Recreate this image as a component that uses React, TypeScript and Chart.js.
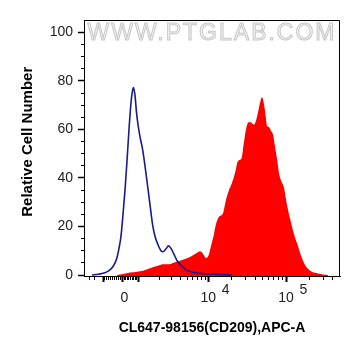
import React, { useEffect, useRef } from "react";
import { Chart, registerables } from "chart.js";

Chart.register(...registerables);

// ---- data (x in display channels 0..1024 of the biexponential axis) ----
const blueX = [32, 56, 80, 100, 116, 130, 140, 148, 156, 164, 172, 180, 188, 194, 198, 204, 210, 216, 224, 234, 244, 254, 264, 274, 284, 296, 308, 316, 328, 338, 348, 360, 372, 388, 408, 432, 464, 504, 544, 592];
const blueY = [0, 0.3, 0.8, 1.8, 3.5, 6.5, 11, 16, 25, 35, 47, 60, 71, 76, 77.3, 74, 67, 62, 57, 52, 45, 37, 29, 21, 16, 12.5, 10, 9.6, 10.8, 12, 11, 8.5, 6, 4, 2.2, 1.2, 0.7, 0.4, 0.2, 0];

const redX = [132, 156, 184, 212, 236, 264, 292, 316, 336, 356, 384, 412, 436, 452, 464, 476, 488, 498, 508, 518, 528, 540, 556, 568, 580, 592, 604, 616, 630, 640, 650, 658, 668, 678, 686, 696, 704, 712, 720, 726, 732, 740, 748, 756, 764, 772, 782, 792, 800, 810, 820, 832, 844, 856, 868, 880, 892, 908, 928, 956, 976];
const redY = [0, 0.4, 1, 1.4, 1.8, 2.8, 3.7, 4.4, 4.4, 5, 5.9, 6.9, 8.2, 9.2, 9.8, 8.8, 7, 8, 12, 16, 21, 24, 25.5, 31, 35, 38, 42, 47, 48, 55, 61, 63, 63, 62, 63, 67, 71, 73.3, 70.5, 66, 61.5, 61, 59.5, 58, 53, 48, 41, 38, 36, 30, 25, 20, 15.5, 12, 8, 5, 3, 1.6, 0.8, 0.2, 0];

const yMajorTicks = [0, 20, 40, 60, 80, 100];
const yMinorTicks = [0, 5, 10, 15, 20, 25, 30, 35, 40, 45, 50, 55, 60, 65, 70, 75, 80, 85, 90, 95, 100];

const xMajorValues = [-1000, 0, 1000, 10000, 100000];
const xMinorValues = [-3000, -2000, -900, -800, -700, -600, -500, -400, -300, -200, -100, 100, 200, 300, 400, 500, 600, 700, 800, 900, 2000, 3000, 4000, 5000, 6000, 7000, 8000, 9000, 20000, 30000, 40000, 50000, 60000, 70000, 80000, 90000, 200000, 300000, 400000];
const xLabelValues = [0, 10000, 100000];
const xLabelBase = ["0", "10", "10"];
const xLabelExp = ["", "4", "5"];

const xTitle = "CL647-98156(CD209),APC-A";
const yTitle = "Relative Cell Number";
const watermark = "WWW.PTGLAB.COM";

const FONT = "'Liberation Sans', Arial, Helvetica, sans-serif";

// biexponential-like display transform: value -> channel (0..1024)
function toChannel(v: number): number {
  const zero = 154, negK = 76, posK = 218, dec1 = 279, dec2 = 311, negDec = 110;
  if (v >= 0) {
    if (v <= 1000) return zero + ((posK - zero) * v) / 1000;
    if (v <= 10000) return posK + dec1 * Math.log10(v / 1000);
    return posK + dec1 + dec2 * Math.log10(v / 10000);
  }
  const a = -v;
  if (a <= 1000) return zero - ((zero - negK) * a) / 1000;
  return negK - negDec * Math.log10(a / 1000);
}

function xLabel(value: number): string | string[] {
  const i = xLabelValues.findIndex((v) => Math.abs(toChannel(v) - value) < 0.01);
  if (i < 0) return "";
  if (!xLabelExp[i]) return ["", " " + xLabelBase[i]];
  return ["         " + xLabelExp[i], xLabelBase[i]];
}

const framePlugin = {
  id: "frame",
  afterDatasetsDraw(chart: any) {
    const { ctx, chartArea } = chart;
    ctx.save();
    ctx.strokeStyle = "#000";
    ctx.lineWidth = 1;
    ctx.beginPath();
    ctx.moveTo(chartArea.left, chartArea.top + 0.5);
    ctx.lineTo(chartArea.right - 0.5, chartArea.top + 0.5);
    ctx.lineTo(chartArea.right - 0.5, chartArea.bottom);
    ctx.stroke();
    ctx.restore();
  },
};

const watermarkPlugin = {
  id: "watermark",
  beforeDatasetsDraw(chart: any) {
    const { ctx, chartArea } = chart;
    ctx.save();
    ctx.font = `23px ${FONT}`;
    (ctx as any).letterSpacing = "2px";
    ctx.textAlign = "center";
    ctx.textBaseline = "middle";
    const cx = (chartArea.left + chartArea.right) / 2;
    const cy = chartArea.top + 13.5;
    ctx.fillStyle = "#f5f5f5";
    ctx.fillText(watermark, cx, cy);
    ctx.strokeStyle = "#c8c8c8";
    ctx.lineWidth = 1;
    ctx.strokeText(watermark, cx, cy);
    ctx.restore();
  },
};

export default function App() {
  const ref = useRef<HTMLCanvasElement | null>(null);

  useEffect(() => {
    if (!ref.current) return;
    const chart = new Chart(ref.current, {
      type: "line",
      data: {
        datasets: [
          {
            label: "CD209",
            data: blueX.map((x, i) => ({ x, y: blueY[i] })),
            borderColor: "#1a1a8c",
            borderWidth: 1.6,
            fill: false,
            pointRadius: 0,
            cubicInterpolationMode: "monotone",
            order: 1,
          },
          {
            label: "Sample",
            data: redX.map((x, i) => ({ x, y: redY[i] })),
            borderColor: "#ff0000",
            borderWidth: 0,
            backgroundColor: "#ff0000",
            fill: "start",
            pointRadius: 0,
            cubicInterpolationMode: "monotone",
            order: 2,
          },
        ],
      },
      options: {
        responsive: false,
        animation: false,
        layout: { padding: { top: 20, right: 21, left: 0, bottom: 0 } },
        plugins: { legend: { display: false }, tooltip: { enabled: false } },
        scales: {
          x: {
            type: "linear",
            position: "bottom",
            min: 0,
            max: 1024,
            weight: 1,
            afterBuildTicks: (s: any) => {
              s.ticks = xMajorValues.map((v) => ({ value: toChannel(v) }));
            },
            afterFit: (s: any) => {
              s.height = 80;
            },
            ticks: {
              autoSkip: false,
              maxRotation: 0,
              minRotation: 0,
              padding: 4,
              color: "#222",
              font: { family: FONT, size: 14, lineHeight: 0.56 },
              callback: (value: any) => xLabel(Number(value)),
            },
            grid: { drawOnChartArea: false, drawTicks: true, tickLength: 6, tickWidth: 2, tickColor: "#000" },
            border: { display: true, color: "#000", width: 1 },
            title: {
              display: true,
              text: xTitle,
              color: "#000",
              font: { family: FONT, size: 14, weight: "bold" },
              padding: { top: 0, bottom: 19 },
            },
          },
          xMinor: {
            type: "linear",
            position: "bottom",
            min: 0,
            max: 1024,
            weight: 0,
            afterBuildTicks: (s: any) => {
              s.ticks = xMinorValues.map((v) => ({ value: toChannel(v) }));
            },
            afterFit: (s: any) => {
              s.height = 0;
            },
            ticks: { display: false, autoSkip: false },
            grid: { drawOnChartArea: false, drawTicks: true, tickLength: 4, tickWidth: 1, tickColor: "#000" },
            border: { display: false },
          },
          y: {
            type: "linear",
            position: "left",
            min: -0.4,
            max: 105.1,
            weight: 1,
            afterBuildTicks: (s: any) => {
              s.ticks = yMajorTicks.map((v) => ({ value: v }));
            },
            afterFit: (s: any) => {
              s.width = 84;
            },
            ticks: { autoSkip: false, color: "#222", padding: 5, font: { family: FONT, size: 14 } },
            grid: { drawOnChartArea: false, drawTicks: true, tickLength: 6, tickWidth: 1.5, tickColor: "#000" },
            border: { display: true, color: "#000", width: 1 },
            title: {
              display: true,
              text: "   " + yTitle,
              color: "#000",
              font: { family: FONT, size: 15, weight: "bold" },
              padding: { top: 18.5, bottom: 0 },
            },
          },
          yMinor: {
            type: "linear",
            position: "left",
            min: -0.4,
            max: 105.1,
            weight: 0,
            afterBuildTicks: (s: any) => {
              s.ticks = yMinorTicks.map((v) => ({ value: v }));
            },
            afterFit: (s: any) => {
              s.width = 0;
            },
            ticks: { display: false, autoSkip: false },
            grid: { drawOnChartArea: false, drawTicks: true, tickLength: 3, tickWidth: 1, tickColor: "#000" },
            border: { display: false },
          },
        },
      } as any,
      plugins: [watermarkPlugin, framePlugin],
    });
    return () => chart.destroy();
  }, []);

  return (
    <div style={{ position: "absolute", left: 0, top: 0, width: 361, height: 356, background: "#fff" }}>
      <canvas ref={ref} width={361} height={356} />
    </div>
  );
}
